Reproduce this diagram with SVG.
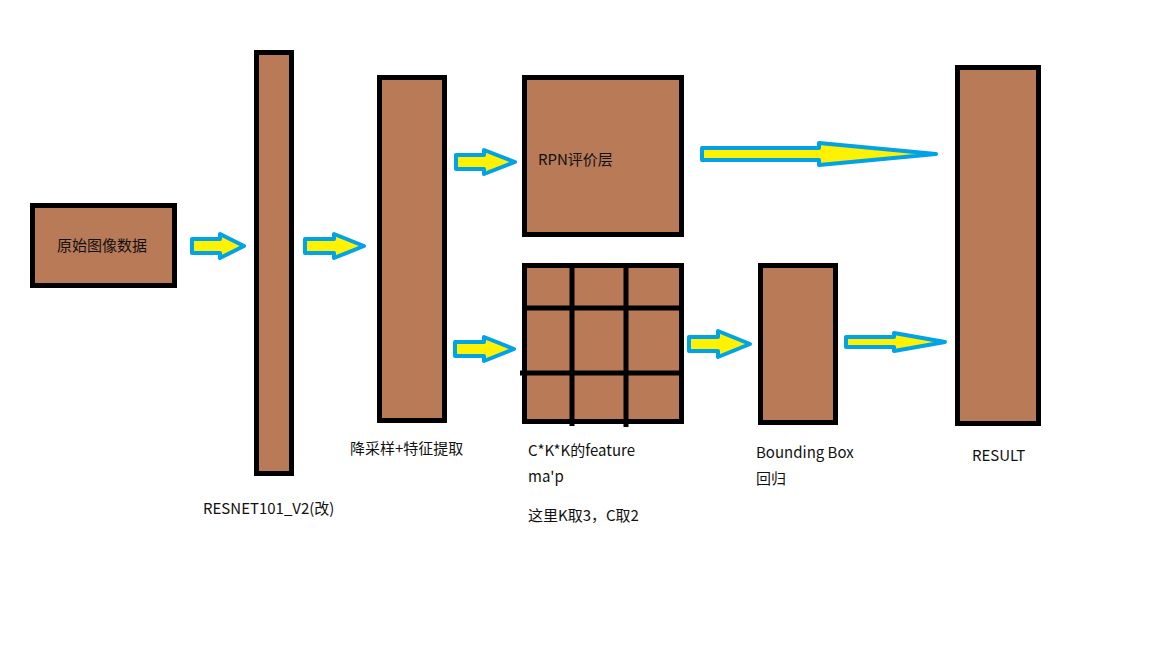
<svg xmlns="http://www.w3.org/2000/svg" width="1152" height="648" viewBox="0 0 1152 648">
<style>
.box{fill:#B97A57;stroke:#000;stroke-width:5}
.grid{stroke:#000;stroke-width:5;fill:none}
.arr{fill:#FFF200;stroke:#00A2E8;stroke-width:4;stroke-linejoin:round}
.t{font-family:"Microsoft YaHei","Noto Sans CJK SC","Noto Sans",sans-serif;font-size:15px;fill:#111}
</style>
<rect width="1152" height="648" fill="#fff"/>
<g id="input">
<rect class="box" x="32.5" y="205.5" width="142" height="80"/>
<text class="t" x="57" y="251">原始图像数据</text>
</g>
<g id="resnet">
<rect class="box" x="256.5" y="52.5" width="35" height="421"/>
<text class="t" x="203" y="514">RESNET101_V2(改)</text>
</g>
<g id="downsample">
<rect class="box" x="379.5" y="77.5" width="65" height="343"/>
<text class="t" x="350" y="454">降采样+特征提取</text>
</g>
<g id="rpn">
<rect class="box" x="524.5" y="77.5" width="157" height="157"/>
<text class="t" x="538" y="165">RPN评价层</text>
</g>
<g id="featuremap">
<rect class="box" x="524.5" y="265.5" width="157" height="156"/>
<path class="grid" d="M572,263V426M626,263V427M522,308H684M520,373H684"/>
<text class="t" x="528" y="456">C*K*K的feature</text>
<text class="t" x="528" y="482">ma'p</text>
<text class="t" x="528" y="521">这里K取3，C取2</text>
</g>
<g id="bbox">
<rect class="box" x="760.5" y="265.5" width="75" height="157"/>
<text class="t" x="756" y="458">Bounding Box</text>
<text class="t" x="756" y="484">回归</text>
</g>
<g id="result">
<rect class="box" x="957.5" y="67.5" width="81" height="356"/>
<text class="t" x="972" y="461">RESULT</text>
</g>
<g id="connectors">
<polygon class="arr" points="192,239 220,239 220,234 244,246 220,258 220,253 192,253"/>
<polygon class="arr" points="305,239 334,239 334,234 364,246 334,258 334,253 305,253"/>
<polygon class="arr" points="456,155 484,155 484,150 515,162 484,174 484,169 456,169"/>
<polygon class="arr" points="455,342 484,342 484,337 514,349 484,361 484,356 455,356"/>
<polygon class="arr" points="702,148 819,148 819,143 936,154 819,165 819,160 702,160"/>
<polygon class="arr" points="689,337 718,337 718,331 750,344 718,357 718,351 689,351"/>
<polygon class="arr" points="846,337 894,337 894,333 945,342 894,351 894,347 846,347"/>
</g>
</svg>
